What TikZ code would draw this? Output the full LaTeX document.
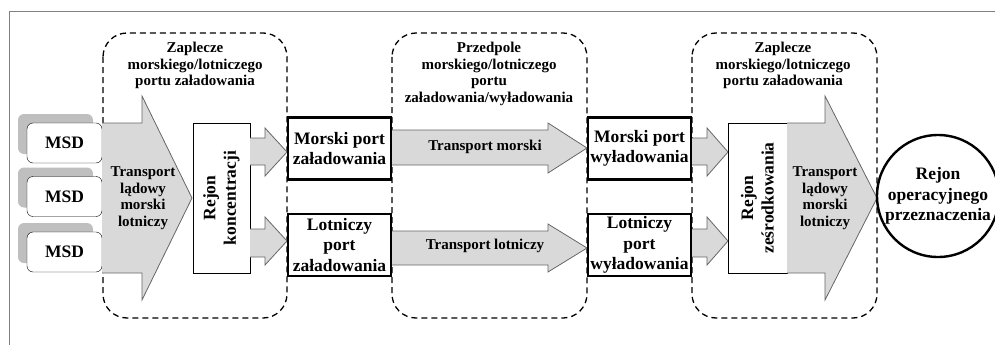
\documentclass[tikz,border=0pt]{standalone}
\usepackage{fontspec}
\setmainfont{Liberation Serif}
\newcommand{\zonefont}{\fontsize{15}{16.5}\selectfont\bfseries}
\newcommand{\boxfont}{\fontsize{17.5}{20.5}\selectfont\bfseries}
\begin{document}
\begin{tikzpicture}[x=1pt,y=-1pt,
  zone/.style={draw, line width=1.3pt, dash pattern=on 6pt off 4pt, rounded corners=24pt},
  msd/.style={draw, fill=white, rounded corners=6pt, minimum width=75pt, minimum height=40pt, font=\boxfont},
  shade/.style={fill=black!25, draw=none, rounded corners=6pt, minimum width=75pt, minimum height=40pt},
  port/.style={draw, line width=2.4pt, fill=white, minimum width=103pt, minimum height=62pt, inner sep=1pt, align=center, font=\boxfont},
  rejon/.style={draw, line width=0.8pt, fill=white, minimum width=150pt, inner sep=1pt, align=center, font=\boxfont},
  blockarrow/.style={draw=black!60, fill=black!15, line width=0.8pt, line join=miter},
  label/.style={align=center, font=\zonefont}]
  \useasboundingbox (0,0) rectangle (995,345);
  \draw[black!50, line width=1pt] (9,360) |- (1010,12);

  % strefy
  \draw[zone] (103,33) rectangle (287,318);
  \draw[zone] (392,33) rectangle (587,318);
  \draw[zone] (692,33) rectangle (877,318);
  \node[label] (z1) at (195,65.5) {Zaplecze\\morskiego/lotniczego\\portu załadowania};
  \node[label] (z2) at (489,74) {Przedpole\\morskiego/lotniczego\\portu\\załadowania/wyładowania};
  \node[label] (z3) at (783,65.5) {Zaplecze\\morskiego/lotniczego\\portu załadowania};

  % MSD
  \foreach \y/\n in {143/1, 196.5/2, 252/3} {
    \node[shade] (s\n) at (55.5,\y-9) {};
    \node[msd] (msd\n) at (64.5,\y) {MSD};
  }

  % transport ladowy
  \draw[blockarrow] (102,123) -- (142,123) -- (142,96) -- (192,198) -- (142,300) -- (142,273) -- (102,273);
  \node[label] (tl1) at (143,198) {Transport\\lądowy\\morski\\lotniczy};

  \node[rejon, rotate=90, minimum height=57pt] (konc) at (221.5,198) {Rejon\\koncentracji};

  \draw[blockarrow] (250,138) -- (265,138) -- (265,128) -- (287,152) -- (265,176) -- (265,165) -- (250,165);
  \draw[blockarrow] (250,229) -- (265,229) -- (265,217) -- (287,241) -- (265,265) -- (265,257) -- (250,257);

  \node[port] (mpz) at (339.5,148.5) {Morski port\\załadowania};
  \node[port] (lpz) at (339.5,245) {Lotniczy\\port\\załadowania};

  % transport morski / lotniczy
  \draw[blockarrow] (392,130) -- (548,130) -- (548,123) -- (587,148) -- (548,173) -- (548,165) -- (392,165);
  \node[label] (tm) at (485,147) {Transport morski};
  \draw[blockarrow] (392,231) -- (548,231) -- (548,224) -- (587,248) -- (548,272) -- (548,265) -- (392,265);
  \node[label] (tlot) at (485,246) {Transport lotniczy};

  \node[port] (mpw) at (639.5,148.5) {Morski port\\wyładowania};
  \node[port] (lpw) at (639.5,245) {Lotniczy\\port\\wyładowania};

  \draw[blockarrow] (692,138) -- (707,138) -- (707,128) -- (728,152) -- (707,176) -- (707,165) -- (692,165);
  \draw[blockarrow] (692,229) -- (707,229) -- (707,217) -- (728,241) -- (707,265) -- (707,257) -- (692,257);

  \node[rejon, rotate=90, minimum height=59pt] (zesr) at (757.5,198) {Rejon\\ześrodkowania};

  \draw[blockarrow] (787,123) -- (825,123) -- (825,96) -- (877,198) -- (825,300) -- (825,273) -- (787,273);
  \node[label] (tl2) at (825,198) {Transport\\lądowy\\morski\\lotniczy};

  \node[draw, circle, line width=2.4pt, minimum size=122pt, inner sep=0pt, align=center, font=\boxfont] (rop) at (938,196) {Rejon\\operacyjnego\\przeznaczenia};
\end{tikzpicture}
\end{document}
